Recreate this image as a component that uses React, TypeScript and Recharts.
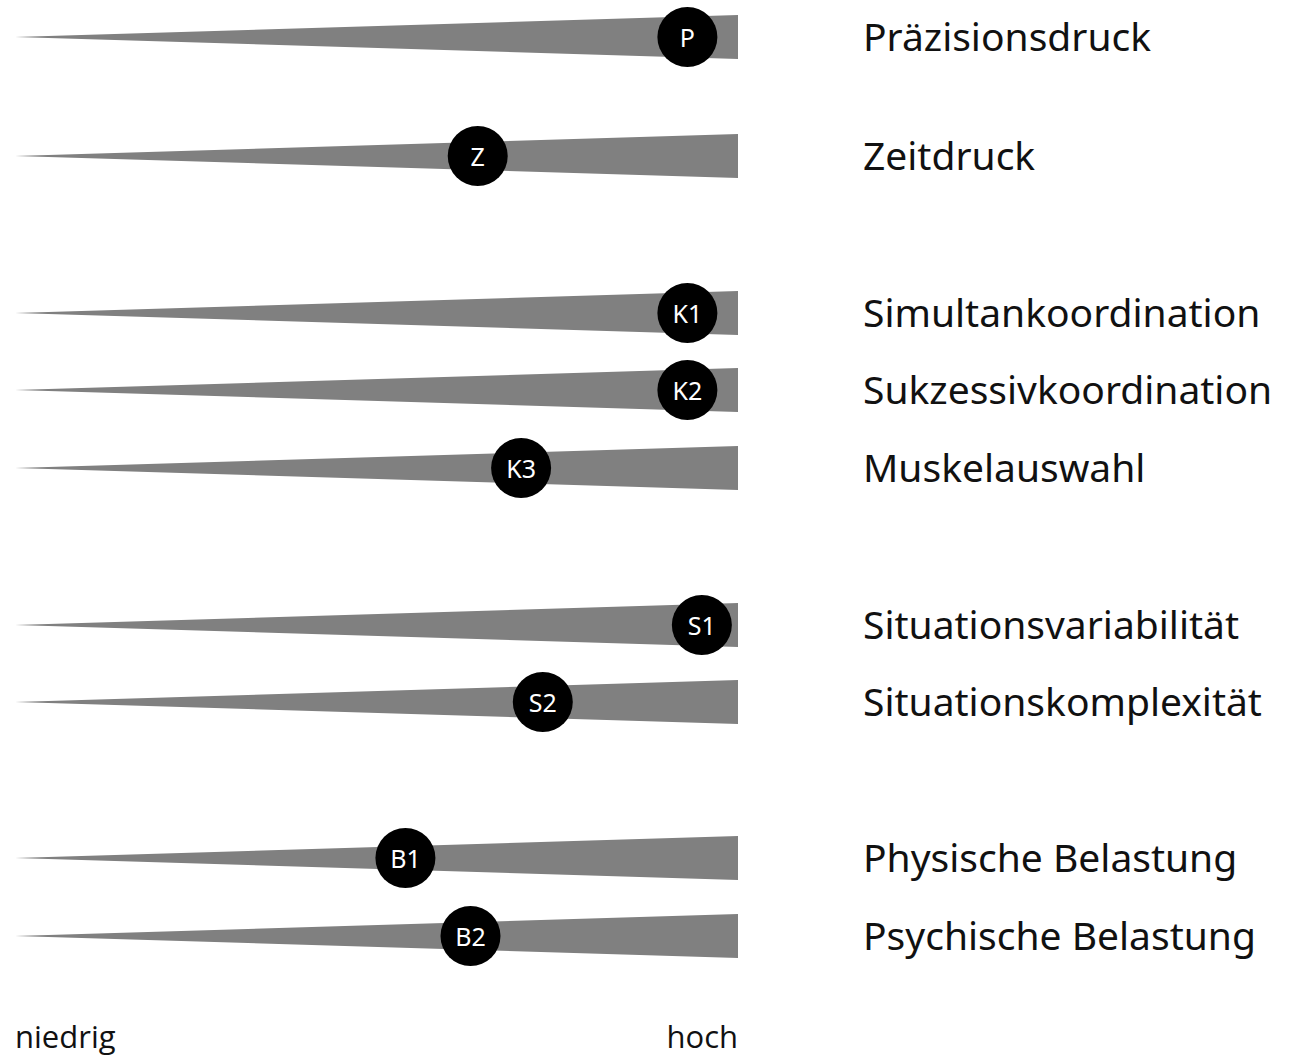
import React from 'react';
import { ComposedChart, Area, Scatter, XAxis, YAxis } from 'recharts';

// one row per requirement, top to bottom
const names = [
  'Präzisionsdruck',
  'Zeitdruck',
  'Simultankoordination',
  'Sukzessivkoordination',
  'Muskelauswahl',
  'Situationsvariabilität',
  'Situationskomplexität',
  'Physische Belastung',
  'Psychische Belastung',
];
const codes = ['P', 'Z', 'K1', 'K2', 'K3', 'S1', 'S2', 'B1', 'B2'];
// position of each row on the vertical axis
const rowY = [37, 156, 313, 390, 468, 625, 702, 858, 936];
// level on the niedrig (0) .. hoch (100) scale
const levels = [93, 64, 93, 93, 70, 95, 73, 54, 63];
const endLabels = ['niedrig', 'hoch'];

const HALF = 22;
const labelFont = '"Noto Sans", "Open Sans", sans-serif';

const wedges = rowY.map((y) => [
  { x: 0, band: [y, y] },
  { x: 100, band: [y - HALF, y + HALF] },
]);

const dots = codes.map((code, i) => ({ x: levels[i], y: rowY[i], code }));

const Dot = (props: any) => {
  const { cx, cy, payload } = props;
  return (
    <g>
      <circle cx={cx} cy={cy} r={30} fill="#000" />
      <text
        x={cx}
        y={cy}
        textAnchor="middle"
        dominantBaseline="central"
        fill="#fff"
        fontSize={25}
        fontFamily={labelFont}
      >
        {payload.code}
      </text>
    </g>
  );
};

const EndTick = (props: any) => {
  const { x, y, payload } = props;
  const first = payload.value === 0;
  return (
    <text
      x={x}
      y={y + 21}
      textAnchor={first ? 'start' : 'end'}
      fill="#111"
      fontSize={31}
      fontFamily='"Open Sans", sans-serif'
    >
      {first ? endLabels[0] : endLabels[1]}
    </text>
  );
};

export default function App() {
  return (
    <div style={{ position: 'absolute', left: 0, top: 0, background: '#fff' }}>
      <ComposedChart width={1294} height={1059} margin={{ top: 0, right: 0, left: 15, bottom: 0 }}>
        <XAxis
          type="number"
          dataKey="x"
          domain={[0, 100]}
          ticks={[0, 100]}
          height={40}
          axisLine={false}
          tickLine={false}
          tick={<EndTick />}
          allowDataOverflow
        />
        <YAxis
          type="number"
          dataKey="y"
          orientation="right"
          domain={[0, 1019]}
          reversed
          width={556}
          ticks={rowY}
          interval={0}
          axisLine={false}
          tickLine={false}
          tickSize={0}
          tickMargin={125}
          tickFormatter={(v: number) => names[rowY.indexOf(v)]}
          tick={{ fill: '#111', fontSize: 39, fontFamily: labelFont, textAnchor: 'start' }}
        />
        {wedges.map((d, i) => (
          <Area
            key={names[i]}
            data={d}
            dataKey="band"
            type="linear"
            stroke="none"
            fill="#808080"
            fillOpacity={1}
            isAnimationActive={false}
            activeDot={false}
            dot={false}
          />
        ))}
        <Scatter data={dots} shape={<Dot />} isAnimationActive={false} />
      </ComposedChart>
    </div>
  );
}
